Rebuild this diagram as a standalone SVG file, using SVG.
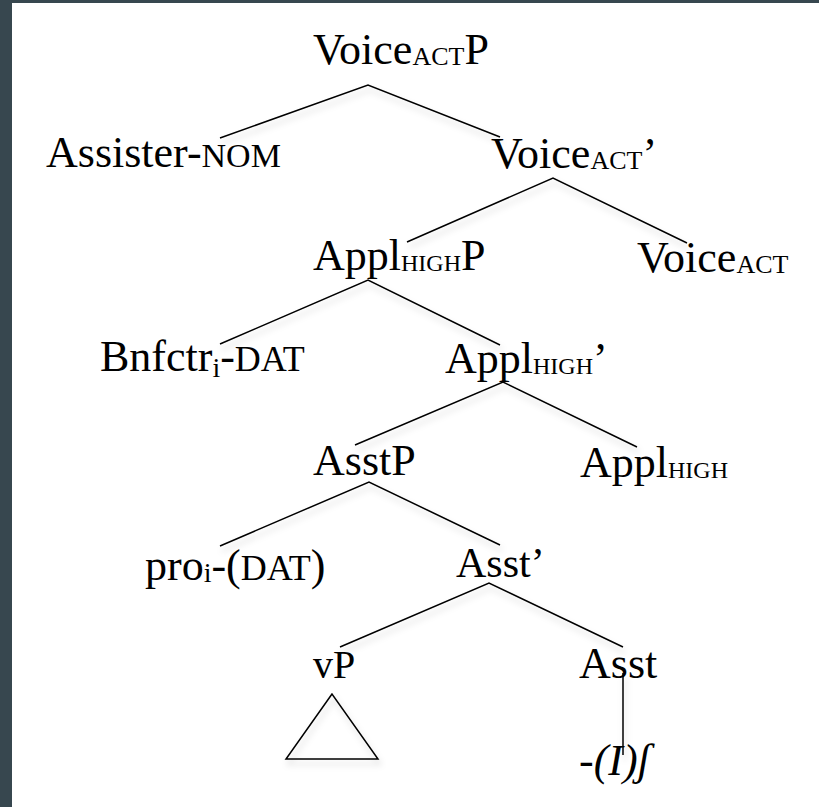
<svg xmlns="http://www.w3.org/2000/svg" width="819" height="807" viewBox="0 0 819 807">
<defs>
<filter id="sh" x="-10%" y="-20%" width="130%" height="160%">
<feDropShadow dx="2" dy="5" stdDeviation="3" flood-color="#000" flood-opacity="0.18"/>
</filter>
</defs>
<rect x="0" y="0" width="819" height="807" fill="#ffffff"/>
<rect x="0" y="0" width="12" height="807" fill="#37474f"/>
<rect x="0" y="0" width="819" height="3" fill="#37474f"/>
<g id="connectors" fill="none" stroke="#000" stroke-width="1.5" filter="url(#sh)">
<path d="M220,138 L368,85 L500,137"/>
<path d="M407,242 L553,178 L687,243"/>
<path d="M220,344 L368,280 L500,345"/>
<path d="M355,445 L503,382 L637,447"/>
<path d="M220,546 L369,482 L500,545"/>
<path d="M340,647 L489,583 L623,647"/>
<path d="M623,673 L623,755"/>
<path d="M332,694 L286,759 L378,759 Z"/>
</g>
<g id="n-voiceactp"><text x="313" y="64" font-family="Liberation Serif" font-size="44">Voice<tspan font-size="26" dy="1">ACT</tspan><tspan dy="-1">P</tspan></text></g>
<g id="n-assister"><text x="46" y="167" font-family="Liberation Serif" font-size="44">Assister-<tspan font-size="34">NOM</tspan></text></g>
<g id="n-voiceactbar"><text x="491" y="168" font-family="Liberation Serif" font-size="44">Voice<tspan font-size="26" dy="1">ACT</tspan><tspan dy="-1">’</tspan></text></g>
<g id="n-applhighp"><text x="313" y="270" font-family="Liberation Serif" font-size="44">Appl<tspan font-size="24" dy="1">HIGH</tspan><tspan dy="-1">P</tspan></text></g>
<g id="n-voiceact"><text x="637" y="272" font-family="Liberation Serif" font-size="44">Voice<tspan font-size="26" dy="1">ACT</tspan></text></g>
<g id="n-bnfctr"><text x="100" y="371" font-family="Liberation Serif" font-size="44">Bnfctr<tspan font-size="28" dy="6">i</tspan><tspan dy="-6">-</tspan><tspan font-size="36">DAT</tspan></text></g>
<g id="n-applhighbar"><text x="445" y="373" font-family="Liberation Serif" font-size="44">Appl<tspan font-size="24" dy="1">HIGH</tspan><tspan dy="-1">’</tspan></text></g>
<g id="n-asstp"><text x="313" y="475" font-family="Liberation Serif" font-size="44">AsstP</text></g>
<g id="n-applhigh"><text x="580" y="477" font-family="Liberation Serif" font-size="44">Appl<tspan font-size="24" dy="1">HIGH</tspan></text></g>
<g id="n-pro"><text x="145" y="580" font-family="Liberation Serif" font-size="44">pro<tspan font-size="28" dy="2">i</tspan><tspan dy="-2">-(</tspan><tspan font-size="36">DAT</tspan>)</text></g>
<g id="n-asstbar"><text x="456" y="577" font-family="Liberation Serif" font-size="42">Asst’</text></g>
<g id="n-vp"><text x="313" y="678" font-family="Liberation Serif" font-size="40">vP</text></g>
<g id="n-asst"><text x="579" y="678" font-family="Liberation Serif" font-size="44">Asst</text></g>
<g id="n-suffix"><text x="579" y="775" font-family="Liberation Serif" font-size="44" font-style="italic">-(I)ʃ</text></g>
</svg>
